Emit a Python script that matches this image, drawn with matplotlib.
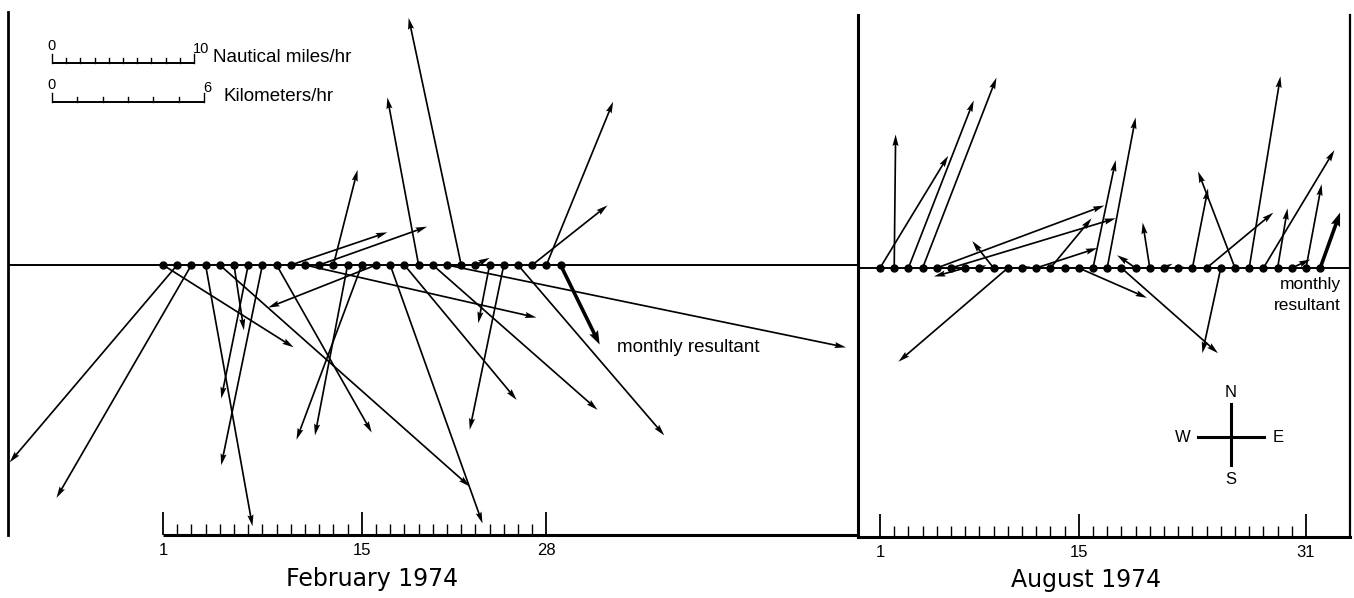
import numpy as np
import matplotlib
matplotlib.use("Agg")
import matplotlib.pyplot as plt

# ---------------- data (knots; east = +u, north = +v) ----------------
feb_days = list(range(1, 29))
feb_u = [9.2, -11.8, -9.5, 3.3, 17.6, 0.7, -1.9, -2.9, 6.7, 6.8,
         16.3, 7.6, 1.7, -2.3, -4.6, -7.6, 6.5, 7.9, -2.2, 11.6,
         28.1, -3.7, 1.0, -0.8, -2.4, 10.3, 5.3, 4.7]
feb_v = [-5.8, -13.9, -16.4, -18.4, -15.6, -4.6, -9.4, -14.1, -11.8, 2.3,
         -3.7, 2.7, 6.7, -12.0, -12.3, -3.0, -18.2, -9.5, 11.8, -10.2,
         -5.8, 17.4, 0.5, -4.1, -11.6, -12.0, 4.2, 11.5]
feb_res_day = 29
feb_res = (2.75, -5.6)

aug_days = list(range(1, 32))
aug_u = [4.8, 0.1, 4.6, 5.2, 11.8, 11.6, -2.2, 0.5, -1.5, -7.7,
         0.6, 4.3, 2.9, 0.5, 4.8, 1.6, 2.0, 6.8, -1.3, -0.5,
         0.6, 0.4, 1.1, 4.7, -1.3, -2.6, 2.2, 5.0, 0.7, 1.3, 1.1]
aug_v = [7.9, 9.4, 11.8, 13.4, 4.4, 3.5, -0.6, 0.2, 1.9, -6.6,
         0.1, 1.4, 3.5, 0.0, -2.1, 7.6, 10.6, -6.0, 0.9, 3.2,
         0.3, 0.1, 5.6, 3.9, -6.0, 6.8, 13.5, 8.3, 4.2, 0.6, 5.9]
aug_res_day = 32
aug_res = (1.4, 3.9)

feb_major = [1, 15, 28]
aug_major = [1, 15, 31]
NM_BAR = 10          # nautical miles/hr
KM_BAR = 6           # kilometers/hr
KM_BAR_LEN = 10.7    # drawn length of km bar in knot units (as in original)

# ---------------- figure ----------------
W, H = 1354, 598
PX = 14.2  # pixels per unit
fig = plt.figure(figsize=(W / 100, H / 100), dpi=100)
plt.rcParams['font.family'] = ['Liberation Sans', 'DejaVu Sans']

def fx(px):
    return px / W

def fy(py):
    return 1 - py / H

# February axes
axf = fig.add_axes([fx(8), fy(535), fx(850), 523 / H])
f_x0 = 1 - (163 - 8) / PX
f_y0 = -(535 - 265) / PX
axf.set_xlim(f_x0, f_x0 + 850 / PX)
axf.set_ylim(f_y0, f_y0 + 523 / PX)

# August axes
axa = fig.add_axes([fx(858), fy(537), fx(492), 522 / H])
a_x0 = 1 - (880 - 858) / PX
a_y0 = -(537 - 268) / PX
axa.set_xlim(a_x0, a_x0 + 492 / PX)
axa.set_ylim(a_y0, a_y0 + 522 / PX)

for ax in (axf, axa):
    ax.set_xticks([])
    ax.set_yticks([])
    ax.patch.set_alpha(0)
    ax.axhline(0, color='k', lw=1.4, zorder=1)

axf.spines['top'].set_visible(False)
axf.spines['right'].set_visible(False)
axf.spines['bottom'].set_visible(False)
axf.spines['left'].set_linewidth(2.0)
axa.spines['top'].set_visible(False)
axa.spines['left'].set_linewidth(2.2)
axa.spines['right'].set_linewidth(1.6)
axa.spines['bottom'].set_linewidth(2.2)

# Feb partial bottom line
axf.plot([feb_days[0], axf.get_xlim()[1]], [f_y0, f_y0], color='k', lw=2.2,
         clip_on=False, solid_capstyle='butt', zorder=2)

def day_ticks(ax, days, majors, y0):
    for d in days:
        L = 1.6 if d in majors else 0.8
        lw = 1.3 if d in majors else 1.0
        ax.plot([d, d], [y0, y0 + L], color='k', lw=lw, clip_on=False,
                solid_capstyle='butt')
    for d in majors:
        ax.text(d, y0 - 1.1, str(d), ha='center', va='center', fontsize=12,
                color='k')

day_ticks(axf, feb_days, feb_major, f_y0)
day_ticks(axa, aug_days, aug_major, a_y0)

qkw = dict(angles='xy', scale_units='xy', scale=1, units='dots', color='k',
           zorder=3)

def draw_vectors(ax, days, u, v, rday, res):
    ax.plot(list(days) + [rday], [0] * (len(days) + 1), 'o', color='k',
            ms=5, zorder=4)
    ax.quiver(days, np.zeros(len(days)), u, v, width=1.7, headwidth=3.6,
              headlength=6.8, headaxislength=6.0, **qkw)
    ax.quiver([rday], [0], [res[0]], [res[1]], width=3.6, headwidth=2.7,
              headlength=3.8, headaxislength=3.4, **qkw)

draw_vectors(axf, feb_days, feb_u, feb_v, feb_res_day, feb_res)
draw_vectors(axa, aug_days, aug_u, aug_v, aug_res_day, aug_res)

# resultant labels
axf.text(1 + (617 - 163) / PX, -(348 - 265) / PX, 'monthly resultant',
         ha='left', va='center', fontsize=13.5)
axa.text(1 + (1341 - 880) / PX, -(285 - 268) / PX, 'monthly',
         ha='right', va='center', fontsize=12.5)
axa.text(1 + (1341 - 880) / PX, -(305 - 268) / PX, 'resultant',
         ha='right', va='center', fontsize=12.5)

# scale bars (Feb axes, knot units)
def scale_bar(ax, x0, y, length, n, lab_end, text, ty):
    ax.plot([x0, x0 + length], [y, y], color='k', lw=1.4,
            solid_capstyle='butt')
    for i in range(n + 1):
        xx = x0 + length * i / n
        h = 0.6 if i in (0, n) else 0.35
        ax.plot([xx, xx], [y, y + h], color='k', lw=1.0)
    ax.text(x0, y + 0.7, '0', ha='center', va='bottom', fontsize=10.5)
    ax.text(x0 + length - 0.05, y + 0.5, lab_end, ha='left', va='bottom',
            fontsize=10.5)
    ax.text(x0 + length + 1.35, ty, text, ha='left', va='center',
            fontsize=13.5)

sb_x0 = 1 - (163 - 52) / PX
scale_bar(axf, sb_x0, (265 - 63) / PX, NM_BAR, NM_BAR, str(NM_BAR),
          'Nautical miles/hr', (265 - 58) / PX)
scale_bar(axf, sb_x0, (265 - 102) / PX, KM_BAR_LEN, KM_BAR, str(KM_BAR),
          'Kilometers/hr', (265 - 97) / PX)

# compass
cx, cy = 1 + (1231 - 880) / PX, -(437 - 268) / PX
arm = 2.3
axa.plot([cx - arm, cx + arm], [cy, cy], color='k', lw=2.2)
axa.plot([cx, cx], [cy - arm * 0.85, cy + arm], color='k', lw=2.2)
axa.text(cx, cy + 3.15, 'N', ha='center', va='center', fontsize=12)
axa.text(cx, cy - 3.0, 'S', ha='center', va='center', fontsize=12)
axa.text(cx - 3.4, cy, 'W', ha='center', va='center', fontsize=12)
axa.text(cx + 3.35, cy, 'E', ha='center', va='center', fontsize=12)

# month labels
fig.text(fx(372), fy(579), 'February 1974', ha='center', va='center',
         fontsize=17, family='DejaVu Sans')
fig.text(fx(1086), fy(580), 'August 1974', ha='center', va='center',
         fontsize=17, family='DejaVu Sans')

fig.savefig('out.png', dpi=100)
